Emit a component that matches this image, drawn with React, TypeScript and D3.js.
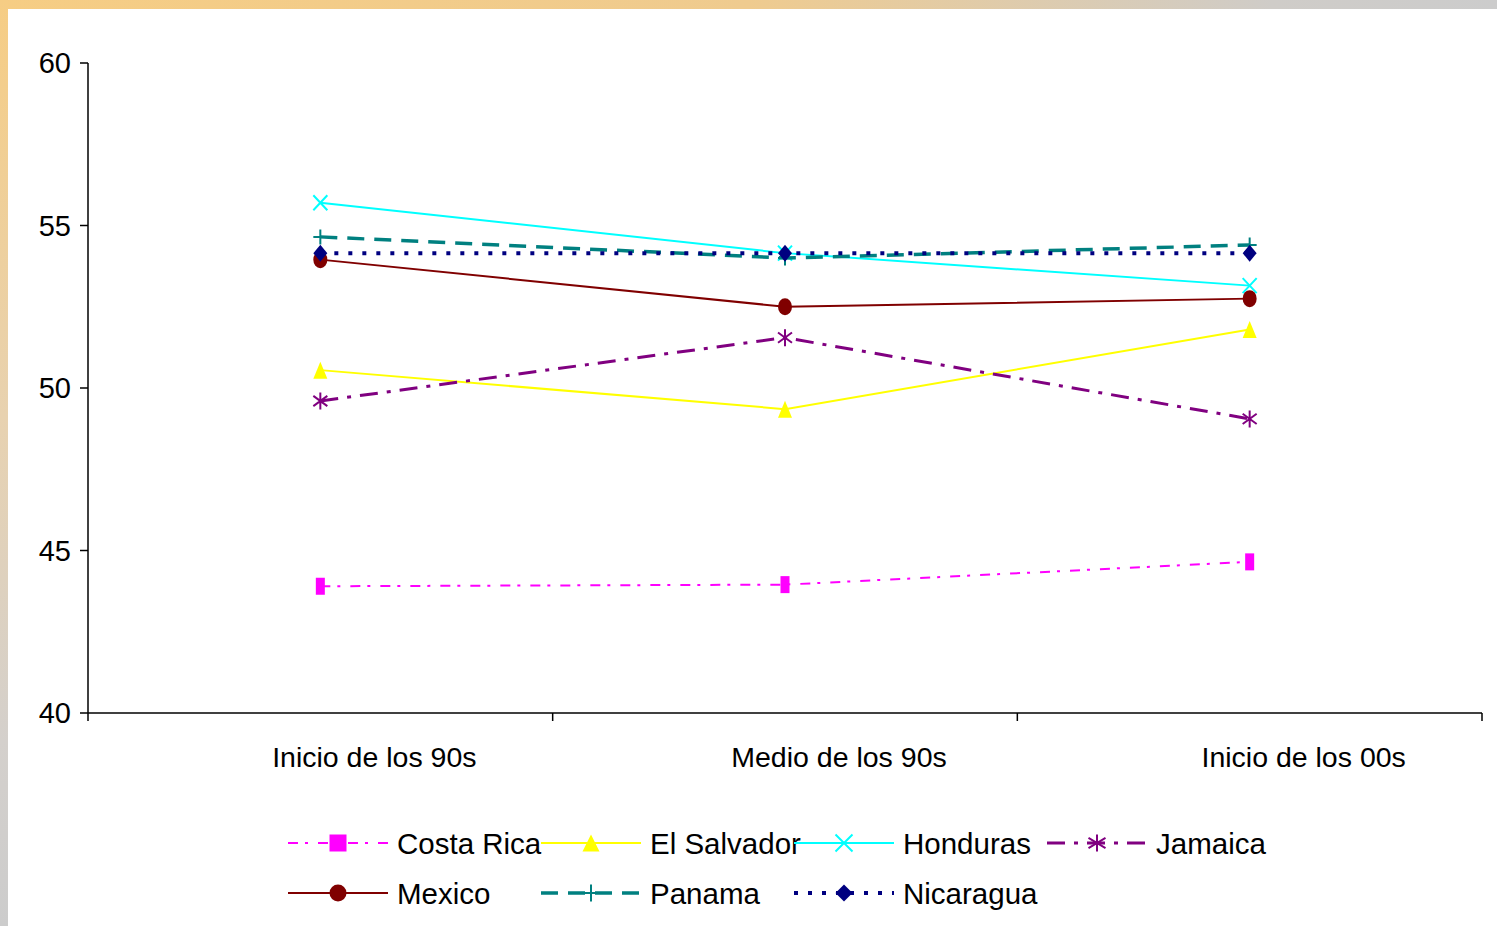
import React from "react";
import * as d3 from "d3";

const categories = ["Inicio de los 90s", "Medio de los 90s", "Inicio de los 00s"];
const yTicks = [40, 45, 50, 55, 60];

const costaRica = [43.9, 43.95, 44.65];
const elSalvador = [50.55, 49.35, 51.8];
const honduras = [55.7, 54.15, 53.15];
const jamaica = [49.6, 51.55, 49.05];
const mexico = [53.95, 52.5, 52.75];
const panama = [54.65, 54.0, 54.4];
const nicaragua = [54.15, 54.15, 54.15];

type Series = {
  name: string;
  values: number[];
  color: string;
  width: number;
  dash: string;
  marker: string;
};

const series: Series[] = [
  { name: "Costa Rica", values: costaRica, color: "#ff00ff", width: 2, dash: "10,7,3,10", marker: "square" },
  { name: "El Salvador", values: elSalvador, color: "#ffff00", width: 2, dash: "", marker: "triangle" },
  { name: "Honduras", values: honduras, color: "#00ffff", width: 2, dash: "", marker: "x" },
  { name: "Jamaica", values: jamaica, color: "#800080", width: 3, dash: "18,9,4,9", marker: "star" },
  { name: "Mexico", values: mexico, color: "#800000", width: 2, dash: "", marker: "circle" },
  { name: "Panama", values: panama, color: "#008080", width: 3.5, dash: "17,10", marker: "plus" },
  { name: "Nicaragua", values: nicaragua, color: "#000080", width: 4, dash: "4,10", marker: "diamond" },
];

const W = 1497;
const H = 926;
const font = "'Liberation Sans', Arial, sans-serif";

function Marker({ type, x, y, w, h, color }: { type: string; x: number; y: number; w: number; h: number; color: string }) {
  const hw = w / 2;
  const hh = h / 2;
  switch (type) {
    case "square":
      return <rect x={x - hw} y={y - hh} width={w} height={h} fill={color} />;
    case "triangle":
      return <path d={`M${x},${y - hh}L${x + hw},${y + hh}L${x - hw},${y + hh}Z`} fill={color} />;
    case "circle":
      return <ellipse cx={x} cy={y} rx={hw} ry={hh} fill={color} />;
    case "diamond":
      return <path d={`M${x},${y - hh}L${x + hw},${y}L${x},${y + hh}L${x - hw},${y}Z`} fill={color} />;
    case "x":
      return (
        <path d={`M${x - hw},${y - hh}L${x + hw},${y + hh}M${x + hw},${y - hh}L${x - hw},${y + hh}`} stroke={color} strokeWidth={2} fill="none" />
      );
    case "plus":
      return <path d={`M${x - hw},${y}L${x + hw},${y}M${x},${y - hh}L${x},${y + hh}`} stroke={color} strokeWidth={2} fill="none" />;
    case "star":
      return (
        <path
          d={`M${x - hw},${y - hh * 0.6}L${x + hw},${y + hh * 0.6}M${x + hw},${y - hh * 0.6}L${x - hw},${y + hh * 0.6}M${x},${y - hh}L${x},${y + hh}`}
          stroke={color}
          strokeWidth={2}
          fill="none"
        />
      );
    default:
      return null;
  }
}

export default function App() {
  const x = d3.scaleBand<string>().domain(categories).range([88, 1482]);
  const y = d3.scaleLinear().domain([40, 60]).range([713, 63]);
  const cx = (c: string) => (x(c) ?? 0) + x.bandwidth() / 2;

  const line = d3
    .line<number>()
    .x((_, i) => cx(categories[i]))
    .y((d) => y(d));

  const edges = [...categories.map((c) => x(c) ?? 0), x.range()[1]];

  const legendCols = [288, 541, 794, 1047];
  const legendRows = [843, 893];

  return (
    <svg width={W} height={H} style={{ position: "absolute", left: 0, top: 0, fontFamily: font }}>
      <defs>
        <linearGradient id="topG" x1="0" y1="0" x2="1" y2="0">
          <stop offset="0" stopColor="#f6cd84" />
          <stop offset="0.5" stopColor="#efcb8f" />
          <stop offset="0.85" stopColor="#cfccc8" />
          <stop offset="1" stopColor="#cccccc" />
        </linearGradient>
        <linearGradient id="leftG" x1="0" y1="0" x2="0" y2="1">
          <stop offset="0" stopColor="#f6cd84" />
          <stop offset="0.45" stopColor="#e8d2b0" />
          <stop offset="0.8" stopColor="#d4d0cc" />
          <stop offset="1" stopColor="#cccccc" />
        </linearGradient>
      </defs>
      <rect x={0} y={0} width={W} height={H} fill="#ffffff" />
      <rect x={0} y={0} width={W} height={9} fill="url(#topG)" />
      <rect x={0} y={0} width={8} height={H} fill="url(#leftG)" />

      {/* axes */}
      <g stroke="#000" strokeWidth={1.5} fill="none">
        <line x1={88} x2={88} y1={y(60)} y2={y(40)} />
        <line x1={88} x2={x.range()[1]} y1={y(40)} y2={y(40)} />
        {yTicks.map((t) => (
          <line key={t} x1={80} x2={88} y1={y(t)} y2={y(t)} />
        ))}
        {edges.map((e, i) => (
          <line key={i} x1={e} x2={e} y1={y(40)} y2={y(40) + 8} />
        ))}
      </g>
      <g fill="#000">
        {yTicks.map((t) => (
          <text key={t} x={71} y={y(t)} dy="0.36em" textAnchor="end" fontSize={29}>
            {t}
          </text>
        ))}
        {categories.map((c) => (
          <text key={c} x={cx(c) + 54} y={767} textAnchor="middle" fontSize={28.5}>
            {c}
          </text>
        ))}
      </g>

      {/* series */}
      {series.map((s) => (
        <g key={s.name}>
          <path d={line(s.values) ?? ""} fill="none" stroke={s.color} strokeWidth={s.width} strokeDasharray={s.dash || undefined} />
          {s.values.map((v, i) => (
            <Marker
              key={i}
              type={s.marker}
              x={cx(categories[i])}
              y={y(v)}
              w={s.marker === "square" ? 9 : 14}
              h={s.marker === "x" || s.marker === "plus" ? 15 : 17}
              color={s.color}
            />
          ))}
        </g>
      ))}

      {/* legend */}
      {series.map((s, i) => {
        const lx = legendCols[i % 4];
        const ly = legendRows[Math.floor(i / 4)];
        return (
          <g key={s.name}>
            <line x1={lx} x2={lx + 100} y1={ly} y2={ly} stroke={s.color} strokeWidth={s.width} strokeDasharray={s.dash || undefined} />
            <Marker type={s.marker} x={lx + 50} y={ly} w={17} h={17} color={s.color} />
            <text x={lx + 109} y={ly} dy="0.36em" fontSize={29.5} fill="#000">
              {s.name}
            </text>
          </g>
        );
      })}
    </svg>
  );
}
